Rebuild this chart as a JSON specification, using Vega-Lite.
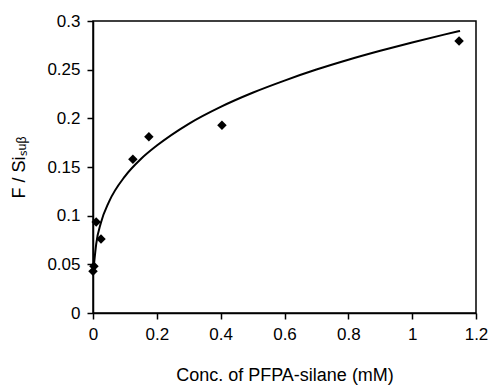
{
  "$schema": "https://vega.github.io/schema/vega-lite/v6.json",
  "width": 383,
  "height": 292,
  "padding": {"left": 10, "top": 12, "right": 16, "bottom": 5},
  "background": "white",
  "config": {
    "view": {"stroke": "black", "strokeWidth": 1.5},
    "font": "Liberation Sans",
    "axis": {
      "grid": false,
      "labelFlush": false,
      "labelOverlap": false,
      "domainColor": "black",
      "domainWidth": 1.5,
      "tickColor": "black",
      "tickWidth": 1.5,
      "tickSize": 6,
      "labelColor": "black",
      "labelFontSize": 17,
      "labelFont": "Liberation Sans",
      "titleFont": "Liberation Sans",
      "titleFontSize": 18,
      "titleFontWeight": "normal",
      "titleColor": "black",
      "labelPadding": 7
    }
  },
  "datasets": {
    "points": [
      {"conc": 0.0, "ratio": 0.043},
      {"conc": 0.003, "ratio": 0.048},
      {"conc": 0.01, "ratio": 0.0935},
      {"conc": 0.025, "ratio": 0.076},
      {"conc": 0.125, "ratio": 0.158},
      {"conc": 0.175, "ratio": 0.181},
      {"conc": 0.404, "ratio": 0.193},
      {"conc": 1.147, "ratio": 0.2795}
    ],
    "fit": [
      {"conc": 0.003, "ratio": 0.0496},
      {"conc": 0.01, "ratio": 0.0708},
      {"conc": 0.025, "ratio": 0.0929},
      {"conc": 0.05, "ratio": 0.1142},
      {"conc": 0.1, "ratio": 0.1404},
      {"conc": 0.15, "ratio": 0.1582},
      {"conc": 0.2, "ratio": 0.172},
      {"conc": 0.3, "ratio": 0.1944},
      {"conc": 0.4, "ratio": 0.2118},
      {"conc": 0.5, "ratio": 0.2263},
      {"conc": 0.6, "ratio": 0.2388},
      {"conc": 0.7, "ratio": 0.2501},
      {"conc": 0.8, "ratio": 0.2602},
      {"conc": 0.9, "ratio": 0.2694},
      {"conc": 1.0, "ratio": 0.278},
      {"conc": 1.1, "ratio": 0.286},
      {"conc": 1.15, "ratio": 0.2898}
    ]
  },
  "layer": [
    {
      "data": {"name": "fit"},
      "mark": {"type": "line", "color": "black", "strokeWidth": 2, "interpolate": "monotone"},
      "encoding": {
        "x": {"field": "conc", "type": "quantitative", "scale": {"domain": [0, 1.2], "nice": false},
          "axis": {"values": [0, 0.2, 0.4, 0.6, 0.8, 1, 1.2], "format": ".1~f", "title": "Conc. of PFPA-silane (mM)", "titlePadding": 24}},
        "y": {"field": "ratio", "type": "quantitative", "scale": {"domain": [0, 0.3], "nice": false},
          "axis": {"values": [0, 0.05, 0.1, 0.15, 0.2, 0.25, 0.3], "format": ".2~f", "title": "F / Siₛᵤᵦ", "titlePadding": 18}}
      }
    },
    {
      "data": {"name": "points"},
      "mark": {"type": "point", "shape": "diamond", "filled": true, "color": "black", "opacity": 1, "size": 90},
      "encoding": {
        "x": {"field": "conc", "type": "quantitative"},
        "y": {"field": "ratio", "type": "quantitative"}
      }
    }
  ]
}
